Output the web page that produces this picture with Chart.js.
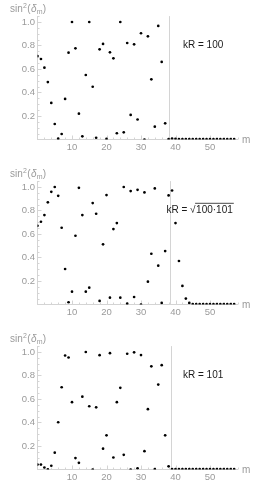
<!DOCTYPE html>
<html><head><meta charset="utf-8">
<script src="https://cdn.jsdelivr.net/npm/chart.js@4/dist/chart.umd.min.js"></script>
<style>
html,body{margin:0;padding:0;background:#fff;overflow:hidden;width:269px;height:484px;}
.p{position:absolute;left:0;width:269px;height:155px;}
</style></head><body>
<div class="p" style="top:0px"><canvas id="c1" width="269" height="155"></canvas></div>
<div class="p" style="top:165px"><canvas id="c2" width="269" height="155"></canvas></div>
<div class="p" style="top:330px"><canvas id="c3" width="269" height="155"></canvas></div>
<script>
// ---- data ----
const mValues = [0,1,2,3,4,5,6,7,8,9,10,11,12,13,14,15,16,17,18,19,20,21,22,23,24,25,26,27,28,29,
  30,31,32,33,34,35,36,37,38,39,40,41,42,43,44,45,46,47,48,49,50,51,52,53,54,55,56,57];

const sin2KR100 = [0.71,0.685,0.611,0.489,0.311,0.132,0.007,0.047,0.345,0.739,
  1.0,0.776,0.22,0.027,0.549,1.0,0.449,0.015,0.767,0.813,
  0.005,0.742,0.691,0.053,1.0,0.061,0.821,0.209,0.81,0.17,
  0.904,0.0,0.878,0.512,0.109,0.966,0.66,0.138,0.003,0.008,
  0.006,0.003,0.003,0.003,0.003,0.003,0.003,0.003,0.003,0.003,
  0.003,0.003,0.003,0.003,0.003,0.003,0.003,0.003];

const sin2KRsqrt = [0.67,0.704,0.761,0.869,0.959,1.0,0.925,0.653,0.302,0.019,
  0.109,0.585,0.993,0.761,0.109,0.143,0.863,0.772,0.03,0.512,
  0.931,0.058,0.642,0.693,0.058,1.0,0.007,0.965,0.064,0.976,
  0.0,0.954,0.194,0.432,0.988,0.33,0.013,0.455,0.928,0.97,
  0.693,0.37,0.158,0.05,0.013,0.004,0.003,0.003,0.003,0.003,
  0.003,0.003,0.003,0.003,0.003,0.003,0.003,0.003];

const sin2KR101 = [0.042,0.042,0.017,0.002,0.032,0.143,0.402,0.70,0.97,0.953,
  0.573,0.097,0.057,0.62,1.0,0.538,0.0,0.529,0.973,0.177,
  0.291,0.99,0.102,0.573,0.695,0.125,0.985,0.0,0.997,0.01,
  0.974,0.156,0.513,0.878,0.003,0.723,0.888,0.291,0.027,0.004,
  0.003,0.003,0.003,0.003,0.003,0.003,0.003,0.003,0.003,0.003,
  0.003,0.003,0.003,0.003,0.003,0.003,0.003,0.003];

const xTickValues = [10,20,30,40,50];
const xTickLabels = ['10','20','30','40','50'];
const yTickValues = [0.2,0.4,0.6,0.8,1.0];
const yTickLabels = ['0.2','0.4','0.6','0.8','1.0'];
const xMinorStep = 2;
const yMinorStep = 0.05;
const markerLines = [38.2,38.4,38.6];
const panelLabels = ['kR = 100','kR = \u221A100\u00B7101','kR = 101'];
const seriesList = [sin2KR100, sin2KRsqrt, sin2KR101];
const xAxisTitle = 'm';

const GRAY = '#9a9a9a';
const AXIS = '#d4d4d4';
const FONT = '"Liberation Sans", Arial, sans-serif';

function drawYTitle(ctx, x, y) {
  ctx.fillStyle = GRAY;
  ctx.textBaseline = 'alphabetic';
  ctx.textAlign = 'left';
  ctx.font = '10px ' + FONT;
  ctx.fillText('sin', x, y); x += ctx.measureText('sin').width + 0.3;
  ctx.font = '7px ' + FONT;
  ctx.fillText('2', x, y - 4); x += ctx.measureText('2').width + 0.3;
  ctx.font = '10px ' + FONT;
  ctx.fillText('(', x, y); x += ctx.measureText('(').width + 0.5;
  ctx.font = 'italic 10px ' + FONT;
  ctx.fillText('\u03B4', x, y); x += ctx.measureText('\u03B4').width;
  ctx.font = '7px ' + FONT;
  ctx.fillText('m', x, y + 2.5); x += ctx.measureText('m').width + 0.3;
  ctx.font = '10px ' + FONT;
  ctx.fillText(')', x, y);
}

function drawKR(ctx, text, x, y) {
  ctx.fillStyle = '#1a1a1a';
  ctx.textBaseline = 'middle';
  ctx.textAlign = 'left';
  ctx.font = '10px ' + FONT;
  const idx = text.indexOf('\u221A');
  if (idx < 0) { ctx.fillText(text, x, y); return; }
  const pre = text.slice(0, idx), rad = text.slice(idx + 1);
  ctx.fillText(pre, x, y); x += ctx.measureText(pre).width;
  ctx.fillText('\u221A', x, y); x += ctx.measureText('\u221A').width;
  ctx.fillText(rad, x + 0.5, y);
  const w = ctx.measureText(rad).width;
  ctx.strokeStyle = '#1a1a1a'; ctx.lineWidth = 0.8;
  ctx.beginPath(); ctx.moveTo(x - 0.5, y - 7.2); ctx.lineTo(x + w + 1.5, y - 7.2); ctx.stroke();
}

const overlay = {
  id: 'overlay',
  beforeDatasetsDraw(chart, args, opts) {
    const ctx = chart.ctx, a = chart.chartArea, xs = chart.scales.x, ys = chart.scales.y;
    ctx.save();
    ctx.strokeStyle = AXIS; ctx.lineWidth = 1;
    // marker line
    const vx = Math.round(xs.getPixelForValue(opts.vline)) + 0.5;
    ctx.beginPath(); ctx.moveTo(vx, a.top); ctx.lineTo(vx, a.bottom); ctx.stroke();
    // inward tick marks (major + minor)
    ctx.beginPath();
    for (let v = xMinorStep; v <= xs.max + 1e-9; v += xMinorStep) {
      const px = Math.round(xs.getPixelForValue(v)) + 0.5;
      const major = xTickValues.some(t => Math.abs(t - v) < 1e-9);
      ctx.moveTo(px, a.bottom); ctx.lineTo(px, a.bottom - (major ? 4 : 2));
    }
    for (let v = yMinorStep; v <= ys.max + 1e-9; v += yMinorStep) {
      const py = Math.round(ys.getPixelForValue(v)) + 0.5;
      const major = yTickValues.some(t => Math.abs(t - v) < 1e-6);
      ctx.moveTo(a.left, py); ctx.lineTo(a.left + (major ? 4 : 2), py);
    }
    ctx.stroke();
    ctx.restore();
  },
  afterDraw(chart, args, opts) {
    const ctx = chart.ctx, a = chart.chartArea;
    ctx.save();
    drawYTitle(ctx, 10, 11.5);
    ctx.fillStyle = GRAY; ctx.font = '10px ' + FONT;
    ctx.textBaseline = 'middle'; ctx.textAlign = 'left';
    ctx.fillText(xAxisTitle, a.right + 4.5, a.bottom + 0.5);
    drawKR(ctx, opts.label, opts.lx, 45.5);
    ctx.restore();
  }
};

function makeChart(id, values, label, vline, lx) {
  const pts = mValues.map((m, i) => ({x: m, y: values[i]}));
  return new Chart(document.getElementById(id), {
    type: 'scatter',
    data: { datasets: [{ data: pts, backgroundColor: '#000', borderWidth: 0,
      pointRadius: 1.35, pointHoverRadius: 1.35 }] },
    options: {
      responsive: false, animation: false,
      layout: { padding: { top: 16.1, right: 31.4, left: 0, bottom: 0 } },
      plugins: { legend: {display: false}, tooltip: {enabled: false},
        overlay: { vline: vline, label: label, lx: lx } },
      scales: {
        x: { type: 'linear', min: 0, max: 58,
          afterFit(s) { s.height = 15.5; },
          afterBuildTicks(s) { s.ticks = xTickValues.map(v => ({value: v})); },
          grid: { display: false, drawTicks: false, tickLength: 0 },
          border: { display: true, color: AXIS, width: 1 },
          ticks: { color: GRAY, padding: 2, font: { family: FONT, size: 9.5 },
            maxRotation: 0, autoSkip: false,
            callback: (v) => { const k = xTickValues.indexOf(v); return k >= 0 ? xTickLabels[k] : ''; } } },
        y: { type: 'linear', min: 0, max: 1.05,
          afterFit(s) { s.width = 37.5; },
          afterBuildTicks(s) { s.ticks = yTickValues.map(v => ({value: v})); },
          grid: { display: false, drawTicks: false, tickLength: 0 },
          border: { display: true, color: AXIS, width: 1 },
          ticks: { color: GRAY, padding: 2.5, font: { family: FONT, size: 9.5 },
            callback: (v) => { const k = yTickValues.findIndex(t => Math.abs(t - v) < 1e-6); return k >= 0 ? yTickLabels[k] : ''; } } }
      }
    },
    plugins: [overlay]
  });
}

makeChart('c1', seriesList[0], panelLabels[0], markerLines[0], 183);
makeChart('c2', seriesList[1], panelLabels[1], markerLines[1], 166.5);
makeChart('c3', seriesList[2], panelLabels[2], markerLines[2], 183);
</script>
</body></html>
